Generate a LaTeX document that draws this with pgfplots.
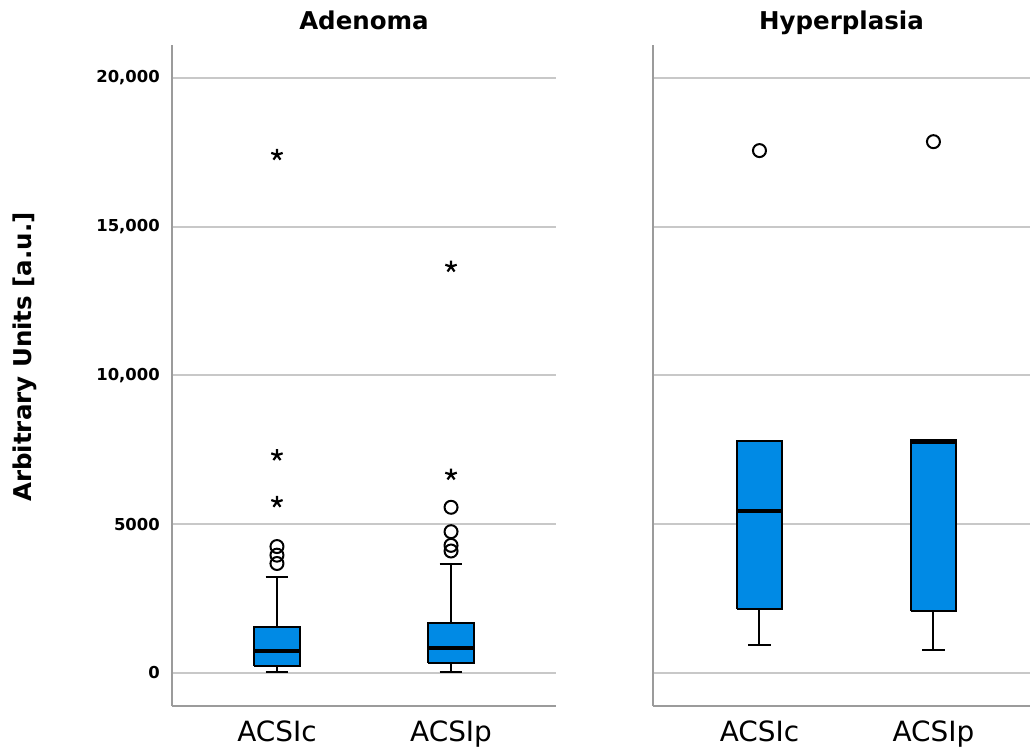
\documentclass[border=0pt]{standalone}
\usepackage{pgfplots}
\pgfplotsset{compat=1.18}
\usepackage{fontspec}
\setmainfont{DejaVu Sans}
\definecolor{boxblue}{RGB}{0,138,229}
\definecolor{gridgray}{RGB}{200,200,200}
\definecolor{axgray}{RGB}{155,155,155}
\pgfplotsset{
 panel/.style={
  scale only axis, height=661bp,
  ymin=-1110, ymax=21110,
  scaled y ticks=false,
  axis x line*=bottom, axis y line*=left,
  axis line style={-, draw=axgray, line width=2.5bp},
  ymajorgrids, grid style={gridgray, line width=2bp},
  major tick length=0pt,
  xtick={1,2}, xticklabels={ACSIc,ACSIp},
  xticklabel style={font=\fontsize{28}{32}\selectfont, inner sep=0pt, anchor=north, yshift=-15bp},
  ytick={0,5000,10000,15000,20000},
  title style={font=\bfseries\fontsize{24.6}{28}\selectfont, at={(0.5,1)}, anchor=base, yshift=10bp},
 },
 bx/.style={draw=black, fill=boxblue, line width=2bp},
 wk/.style={draw=black, line width=2bp},
 md/.style={draw=black, line width=4bp},
 circ/.style={only marks, mark=o, mark size=6.5bp, mark options={line width=2bp, draw=black, fill=none}},
 starm/.style={only marks, mark=star, mark size=6bp, mark options={line width=2.2bp, draw=black}},
}
\begin{document}
\begin{tikzpicture}
\path[use as bounding box] (0,0) rectangle (1030bp,752bp);
% Left panel: Adenoma
\begin{axis}[panel, width=384bp, at={(172bp,46bp)}, anchor=south west,
  xmin=0.397, xmax=2.603,
  title={Adenoma},
  yticklabels={0,5000,{10,000},{15,000},{20,000}},
  yticklabel style={font=\bfseries\fontsize{16.5}{20}\selectfont, inner sep=0pt, anchor=east, xshift=-12bp},
  ylabel={Arbitrary Units [a.u.]},
  ylabel style={font=\bfseries\fontsize{24.6}{28}\selectfont, at={(axis description cs:-0.383,0.528)}, anchor=center},
]
% ACSIc: whiskers 20 / 3221, box 245-1533, median 738
\addplot[wk] coordinates {(1,20) (1,245)};
\addplot[wk] coordinates {(1,1533) (1,3221)};
\addplot[wk] coordinates {(0.935,20) (1.065,20)};
\addplot[wk] coordinates {(0.935,3221) (1.065,3221)};
\addplot[bx] coordinates {(0.87,245) (1.13,245) (1.13,1533) (0.87,1533) (0.87,245)};
\addplot[md] coordinates {(0.87,738) (1.13,738)};
% ACSIp: whiskers 20 / 3648, box 325-1678, median 828
\addplot[wk] coordinates {(2,20) (2,325)};
\addplot[wk] coordinates {(2,1678) (2,3648)};
\addplot[wk] coordinates {(1.935,20) (2.065,20)};
\addplot[wk] coordinates {(1.935,3648) (2.065,3648)};
\addplot[bx] coordinates {(1.87,325) (2.13,325) (2.13,1678) (1.87,1678) (1.87,325)};
\addplot[md] coordinates {(1.87,828) (2.13,828)};
\addplot[circ] coordinates {(1,4250) (1,3960) (1,3680) (2,5570) (2,4750) (2,4290) (2,4100)};
\addplot[starm] coordinates {(1,17420) (1,7320) (1,5750) (2,13660) (2,6670)};
\end{axis}
% Right panel: Hyperplasia
\begin{axis}[panel, width=377bp, at={(653bp,46bp)}, anchor=south west,
  xmin=0.388, xmax=2.555,
  title={Hyperplasia},
  yticklabels={},
]
% ACSIc: whisker 930, box 2148-7785, median 5460
\addplot[wk] coordinates {(1,930) (1,2148)};
\addplot[wk] coordinates {(0.935,930) (1.065,930)};
\addplot[bx] coordinates {(0.87,2148) (1.13,2148) (1.13,7785) (0.87,7785) (0.87,2148)};
\addplot[md] coordinates {(0.87,5460) (1.13,5460)};
% ACSIp: whisker 762, box 2070-7842, median 7752
\addplot[wk] coordinates {(2,762) (2,2070)};
\addplot[wk] coordinates {(1.935,762) (2.065,762)};
\addplot[bx] coordinates {(1.87,2070) (2.13,2070) (2.13,7842) (1.87,7842) (1.87,2070)};
\addplot[md] coordinates {(1.87,7752) (2.13,7752)};
\addplot[circ] coordinates {(1,17560) (2,17860)};
\end{axis}
\end{tikzpicture}
\end{document}
